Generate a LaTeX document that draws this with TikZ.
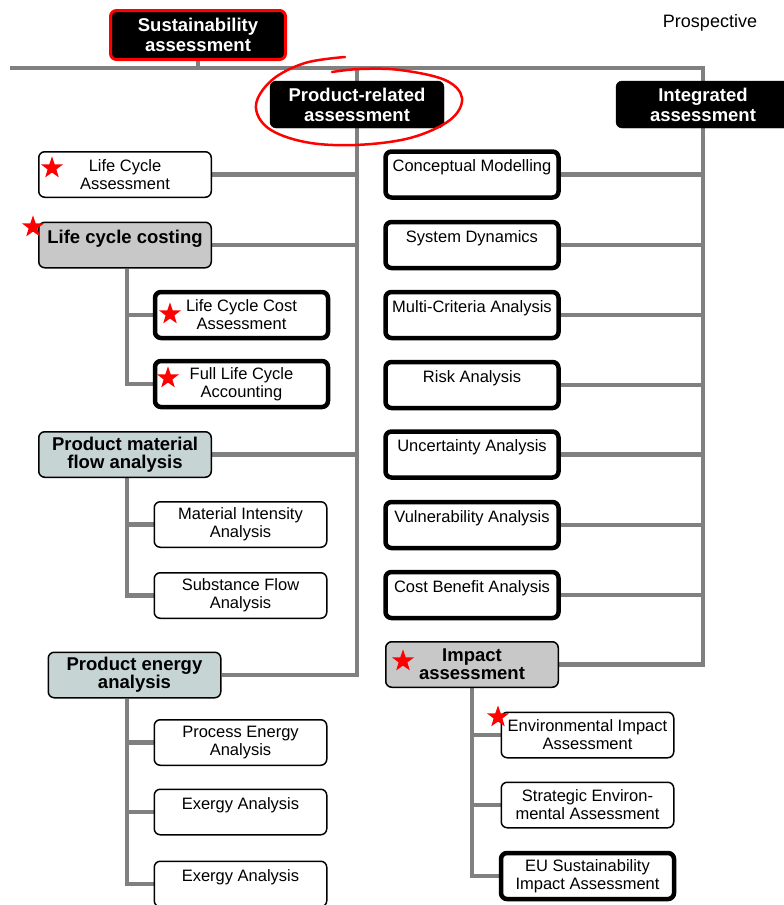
\documentclass[tikz,border=0pt]{standalone}
\usepackage{fontspec}
\setmainfont{Liberation Sans}
\usetikzlibrary{shapes.geometric}
\definecolor{conngray}{RGB}{128,128,128}
\definecolor{boxgray}{RGB}{200,200,200}
\definecolor{boxblue}{RGB}{198,212,212}
\pgfdeclarelayer{bg}
\pgfsetlayers{bg,main}
\begin{document}
\begin{tikzpicture}[x=1pt,y=-1pt,
  box/.style={draw=black, rounded corners=6pt, fill=white, minimum width=172.5pt, minimum height=45.5pt, inner sep=0pt, align=center, line width=1.5pt, font=\fontsize{16.5}{18}\selectfont},
  thickbox/.style={box, line width=4.5pt, minimum width=173pt, minimum height=46pt},
  catbox/.style={box, line width=1.5pt, font=\bfseries\fontsize{18.5}{18}\selectfont},
  graybox/.style={catbox, fill=boxgray},
  bluebox/.style={catbox, fill=boxblue},
  headbox/.style={draw=black, fill=black, text=white, rounded corners=6pt, minimum width=174pt, minimum height=47pt, inner sep=0pt, align=center, font=\bfseries\fontsize{18.5}{20}\selectfont},
  toptext/.style={text height=12pt, text depth=18pt},
  conn/.style={draw=conngray, line width=4.5pt},
  redstar/.style={star, star points=5, star point ratio=2.5, fill=red, draw=none, minimum size=23pt, inner sep=0pt}
]
\useasboundingbox (0,0) rectangle (784,905);

% headers
\node[headbox, draw=red, line width=3pt, minimum width=175pt, minimum height=49pt] (sus) at (198,35) {Sustainability\\assessment};
\node[font=\fontsize{18}{20}\selectfont] (pros) at (710,23) {Prospective};
\node[headbox] (prod) at (357,104.5) {Product-related\\assessment};
\node[headbox] (integ) at (703,104.5) {Integrated\\assessment};
\coordinate (tl) at (10,68);

% left column
\node[box] (lca) at (125,174.5) {Life Cycle\\Assessment};
\node[graybox, text height=14pt, text depth=17.5pt] (lcc) at (125,245) {Life cycle costing};
\node[thickbox] (lcca) at (241.5,315) {Life Cycle Cost\\Assessment};
\node[thickbox] (flca) at (241.5,384) {Full Life Cycle\\Accounting};
\node[bluebox] (pmfa) at (125,454.5) {Product material\\flow analysis};
\node[box] (mia) at (240.5,524.5) {Material Intensity\\Analysis};
\node[box] (sfa) at (240.5,595.5) {Substance Flow\\Analysis};
\node[bluebox] (pea) at (134.5,675) {Product energy\\analysis};
\node[box] (pena) at (240.5,742.5) {Process Energy\\Analysis};
\node[box, toptext] (ex1) at (240.5,812) {Exergy Analysis};
\node[box, toptext] (ex2) at (240.5,884) {Exergy Analysis};

% right column
\node[thickbox, toptext] (cm) at (472,174.5) {Conceptual Modelling};
\node[thickbox, toptext] (sd) at (472,245) {System Dynamics};
\node[thickbox, toptext] (mca) at (472,315) {Multi-Criteria Analysis};
\node[thickbox, toptext] (ra) at (472,385) {Risk Analysis};
\node[thickbox, toptext] (ua) at (472,454.5) {Uncertainty Analysis};
\node[thickbox, toptext] (va) at (472,525) {Vulnerability Analysis};
\node[thickbox, toptext] (cba) at (472,595) {Cost Benefit Analysis};
\node[graybox] (imp) at (472,664.5) {Impact\\assessment};
\node[box] (eia) at (587.5,735) {Environmental Impact\\Assessment};
\node[box] (sea) at (587.5,805) {Strategic Environ-\\mental Assessment};
\node[thickbox] (eu) at (587.5,876) {EU Sustainability\\Impact Assessment};

% connectors
\begin{pgfonlayer}{bg}
\draw[conn] (sus.south) -- (sus.south |- tl);
\coordinate (ibot) at (integ.center |- imp.east);
\draw[conn] (tl) -| (ibot) -- (imp.east);
\draw[conn] (prod.center |- tl) |- (pea.east);
\foreach \n in {lca,lcc,pmfa} \draw[conn] (\n.east) -- (\n.east -| prod.center);
\foreach \n in {cm,sd,mca,ra,ua,va,cba} \draw[conn] (\n.east) -- (\n.east -| integ.center);
\coordinate (lccv) at ([xshift=2pt]lcc.south);
\draw[conn] (lccv) |- (flca.west);
\draw[conn] (lcca.west) -- (lcca.west -| lccv);
\coordinate (pmfav) at ([xshift=2pt]pmfa.south);
\draw[conn] (pmfav) |- (sfa.west);
\draw[conn] (mia.west) -- (mia.west -| pmfav);
\coordinate (peav) at ([xshift=-7.5pt]pea.south);
\draw[conn] (peav) |- (ex2.west);
\draw[conn] (pena.west) -- (pena.west -| peav);
\draw[conn] (ex1.west) -- (ex1.west -| peav);
\draw[conn] (imp.south) |- (eu.west);
\draw[conn] (eia.west) -- (eia.west -| imp.south);
\draw[conn] (sea.west) -- (sea.west -| imp.south);
\end{pgfonlayer}

% stars
\node[redstar] (st1) at (52,168) {};
\node[redstar] (st2) at (33,227) {};
\node[redstar] (st3) at (170,314) {};
\node[redstar] (st4) at (168,378) {};
\node[redstar] (st5) at (403,661) {};
\node[redstar] (st6) at (498,717) {};

% red hand-drawn ellipse
\draw[red, line width=2.5pt, line cap=round] plot[smooth, tension=0.6] coordinates {(345,57) (305,63) (272,80) (256,105) (268,128) (305,142) (355,145) (410,138) (450,120) (462,98) (445,80) (400,70) (360,69) (332,72)};
\end{tikzpicture}
\end{document}
